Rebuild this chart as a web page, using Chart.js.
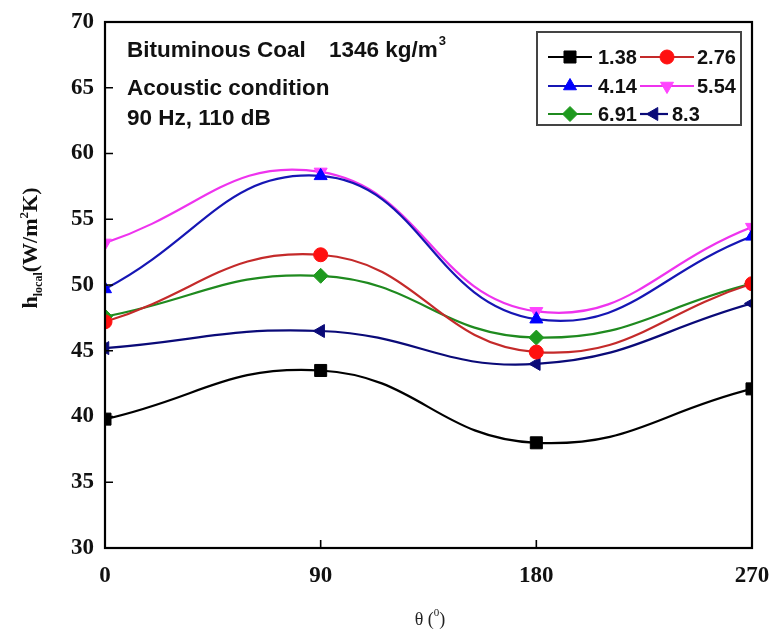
<!DOCTYPE html>
<html>
<head>
<meta charset="utf-8">
<script src="https://cdn.jsdelivr.net/npm/chart.js@4.4.1/dist/chart.umd.min.js"></script>
<style>
html,body{margin:0;padding:0;background:#fff;}
#wrap{width:772px;height:634px;position:relative;}
</style>
</head>
<body>
<div id="wrap"><canvas id="c" width="772" height="634"></canvas></div>
<script>
// ---- data ----
const thetaDeg = [0, 90, 180, 270];
const seriesLabels = ['1.38', '2.76', '4.14', '5.54', '6.91', '8.3'];
const h138 = [39.8, 43.5, 38.0, 42.1];
const h276 = [47.2, 52.3, 44.9, 50.1];
const h414 = [49.7, 58.3, 47.4, 53.7];
const h554 = [53.2, 58.6, 48.0, 54.4];
const h691 = [47.6, 50.7, 46.0, 50.1];
const h83  = [45.2, 46.5, 44.0, 48.6];
const yTickValues = [30, 35, 40, 45, 50, 55, 60, 65, 70];
const xTickValues = [0, 90, 180, 270];

const seriesValues = [h138, h276, h414, h554, h691, h83];
const lineColors = ['#000000', '#c42a2a', '#1616b4', '#ee33ee', '#1f8a1f', '#0a0a78'];
const markColors = ['#000000', '#ff1010', '#0000ff', '#ff44ff', '#1f9a1f', '#0a0a78'];
const markStyles = ['rect', 'circle', 'triangle', 'triangle', 'rectRot', 'triangle'];
const markRot = [0, 0, 0, 180, 0, -90];
const markRad = [8.5, 7, 7.5, 7.5, 7.5, 7.5];

const datasets = seriesLabels.map((lab, i) => ({
  label: lab,
  data: thetaDeg.map((t, j) => ({x: t, y: seriesValues[i][j]})),
  borderColor: lineColors[i],
  backgroundColor: markColors[i],
  pointBackgroundColor: markColors[i],
  pointBorderColor: markColors[i],
  pointStyle: markStyles[i],
  pointRotation: markRot[i],
  pointRadius: markRad[i],
  pointBorderWidth: 1,
  borderWidth: 2.2,
  tension: 0.45,
  clip: 0,
  fill: false
}));

const SERIF = '"Liberation Serif", "Times New Roman", serif';
const SANS = '"Liberation Sans", Arial, sans-serif';

// legend layout (positions only)
const legendRows = [57, 86, 114];
const legendItems = [
  {x0: 548, x1: 592, tx: 598},
  {x0: 640, x1: 694, tx: 697},
  {x0: 548, x1: 592, tx: 598},
  {x0: 640, x1: 694, tx: 697},
  {x0: 548, x1: 592, tx: 598},
  {x0: 640, x1: 668, tx: 672}
];

const framePlugin = {
  id: 'frame',
  afterDatasetsDraw(chart) {
    const {ctx, chartArea: a, scales} = chart;
    ctx.save();
    ctx.strokeStyle = '#000';
    ctx.lineWidth = 2.2;
    ctx.strokeRect(a.left, a.top, a.right - a.left, a.bottom - a.top);
    ctx.lineWidth = 1.6;
    ctx.beginPath();
    yTickValues.forEach(v => {
      const y = scales.y.getPixelForValue(v);
      if (v > 30 && v < 70) { ctx.moveTo(a.left, y); ctx.lineTo(a.left + 8, y); }
    });
    xTickValues.forEach(v => {
      const x = scales.x.getPixelForValue(v);
      if (v > 0 && v < 270) { ctx.moveTo(x, a.bottom); ctx.lineTo(x, a.bottom - 8); }
    });
    ctx.stroke();
    ctx.restore();
  },
  afterDraw(chart) {
    const {ctx} = chart;
    ctx.save();
    // annotation text
    ctx.fillStyle = '#111';
    ctx.textBaseline = 'alphabetic';
    ctx.textAlign = 'left';
    ctx.font = 'bold 22.5px ' + SANS;
    ctx.fillText('Bituminous Coal', 127, 57);
    ctx.fillText('1346 kg/m', 329, 57);
    const w = ctx.measureText('1346 kg/m').width;
    ctx.font = 'bold 13px ' + SANS;
    ctx.fillText('3', 329 + w + 1, 45);
    ctx.font = 'bold 22.5px ' + SANS;
    ctx.fillText('Acoustic condition', 127, 95);
    ctx.fillText('90 Hz, 110 dB', 127, 125);

    // legend
    const lx = 537, ly = 32, lw = 204, lh = 93;
    ctx.fillStyle = '#fff';
    ctx.fillRect(lx, ly, lw, lh);
    ctx.strokeStyle = '#444';
    ctx.lineWidth = 2;
    ctx.strokeRect(lx, ly, lw, lh);
    chart.data.datasets.forEach((ds, i) => {
      const it = legendItems[i];
      const y = legendRows[Math.floor(i / 2)];
      ctx.strokeStyle = ds.borderColor;
      ctx.lineWidth = 2.2;
      ctx.beginPath();
      ctx.moveTo(it.x0, y); ctx.lineTo(it.x1, y); ctx.stroke();
      ctx.fillStyle = ds.pointBackgroundColor;
      ctx.strokeStyle = ds.pointBorderColor;
      ctx.lineWidth = 1;
      Chart.helpers.drawPoint(ctx, {pointStyle: ds.pointStyle, radius: ds.pointRadius, rotation: ds.pointRotation, borderWidth: 1}, (it.x0 + it.x1) / 2, y);
      ctx.fillStyle = '#111';
      ctx.font = 'bold 20px ' + SANS;
      ctx.textBaseline = 'middle';
      ctx.fillText(ds.label, it.tx, y + 1);
    });

    // y-axis title
    ctx.save();
    ctx.translate(37, 248);
    ctx.rotate(-Math.PI / 2);
    ctx.fillStyle = '#111';
    ctx.textBaseline = 'alphabetic';
    const parts = [
      {t: 'h', f: 'bold 22px ' + SERIF, dy: 0},
      {t: 'local', f: 'bold 12px ' + SERIF, dy: 5},
      {t: '(W/m', f: 'bold 22px ' + SERIF, dy: 0},
      {t: '2', f: 'bold 13px ' + SERIF, dy: -9},
      {t: 'K)', f: 'bold 22px ' + SERIF, dy: 0}
    ];
    let total = 0;
    parts.forEach(p => { ctx.font = p.f; p.w = ctx.measureText(p.t).width; total += p.w; });
    let px = -total / 2;
    parts.forEach(p => { ctx.font = p.f; ctx.fillText(p.t, px, p.dy); px += p.w; });
    ctx.restore();

    // x-axis title
    ctx.fillStyle = '#222';
    ctx.textBaseline = 'alphabetic';
    const xparts = [
      {t: '\u03B8 (', f: '18px ' + SERIF, dy: 0},
      {t: '0', f: '11px ' + SERIF, dy: -9},
      {t: ')', f: '18px ' + SERIF, dy: 0}
    ];
    let xt = 0;
    xparts.forEach(p => { ctx.font = p.f; p.w = ctx.measureText(p.t).width; xt += p.w; });
    let xx = 430 - xt / 2;
    xparts.forEach(p => { ctx.font = p.f; ctx.fillText(p.t, xx, 625 + p.dy); xx += p.w; });
    ctx.restore();
  }
};

new Chart(document.getElementById('c'), {
  type: 'line',
  data: {datasets},
  options: {
    responsive: false,
    animation: false,
    devicePixelRatio: 1,
    layout: {padding: {left: 0, right: 20, top: 22, bottom: 0}},
    plugins: {legend: {display: false}, tooltip: {enabled: false}, title: {display: false}},
    scales: {
      x: {
        type: 'linear', min: 0, max: 270,
        afterBuildTicks(s) { s.ticks = xTickValues.map(v => ({value: v})); },
        afterFit(s) { s.height = 86; s.paddingLeft = 0; s.paddingRight = 0; },
        grid: {display: false, drawTicks: false},
        border: {display: false},
        ticks: {color: '#111', padding: 14, font: {family: SERIF, size: 23, weight: 'bold'}, maxRotation: 0}
      },
      y: {
        min: 30, max: 70,
        afterBuildTicks(s) { s.ticks = yTickValues.map(v => ({value: v})); },
        afterFit(s) { s.width = 105; s.paddingTop = 0; s.paddingBottom = 0; },
        grid: {display: false, drawTicks: false},
        border: {display: false},
        ticks: {color: '#111', padding: 11, font: {family: SERIF, size: 23, weight: 'bold'}}
      }
    }
  },
  plugins: [framePlugin]
});
</script>
</body>
</html>
